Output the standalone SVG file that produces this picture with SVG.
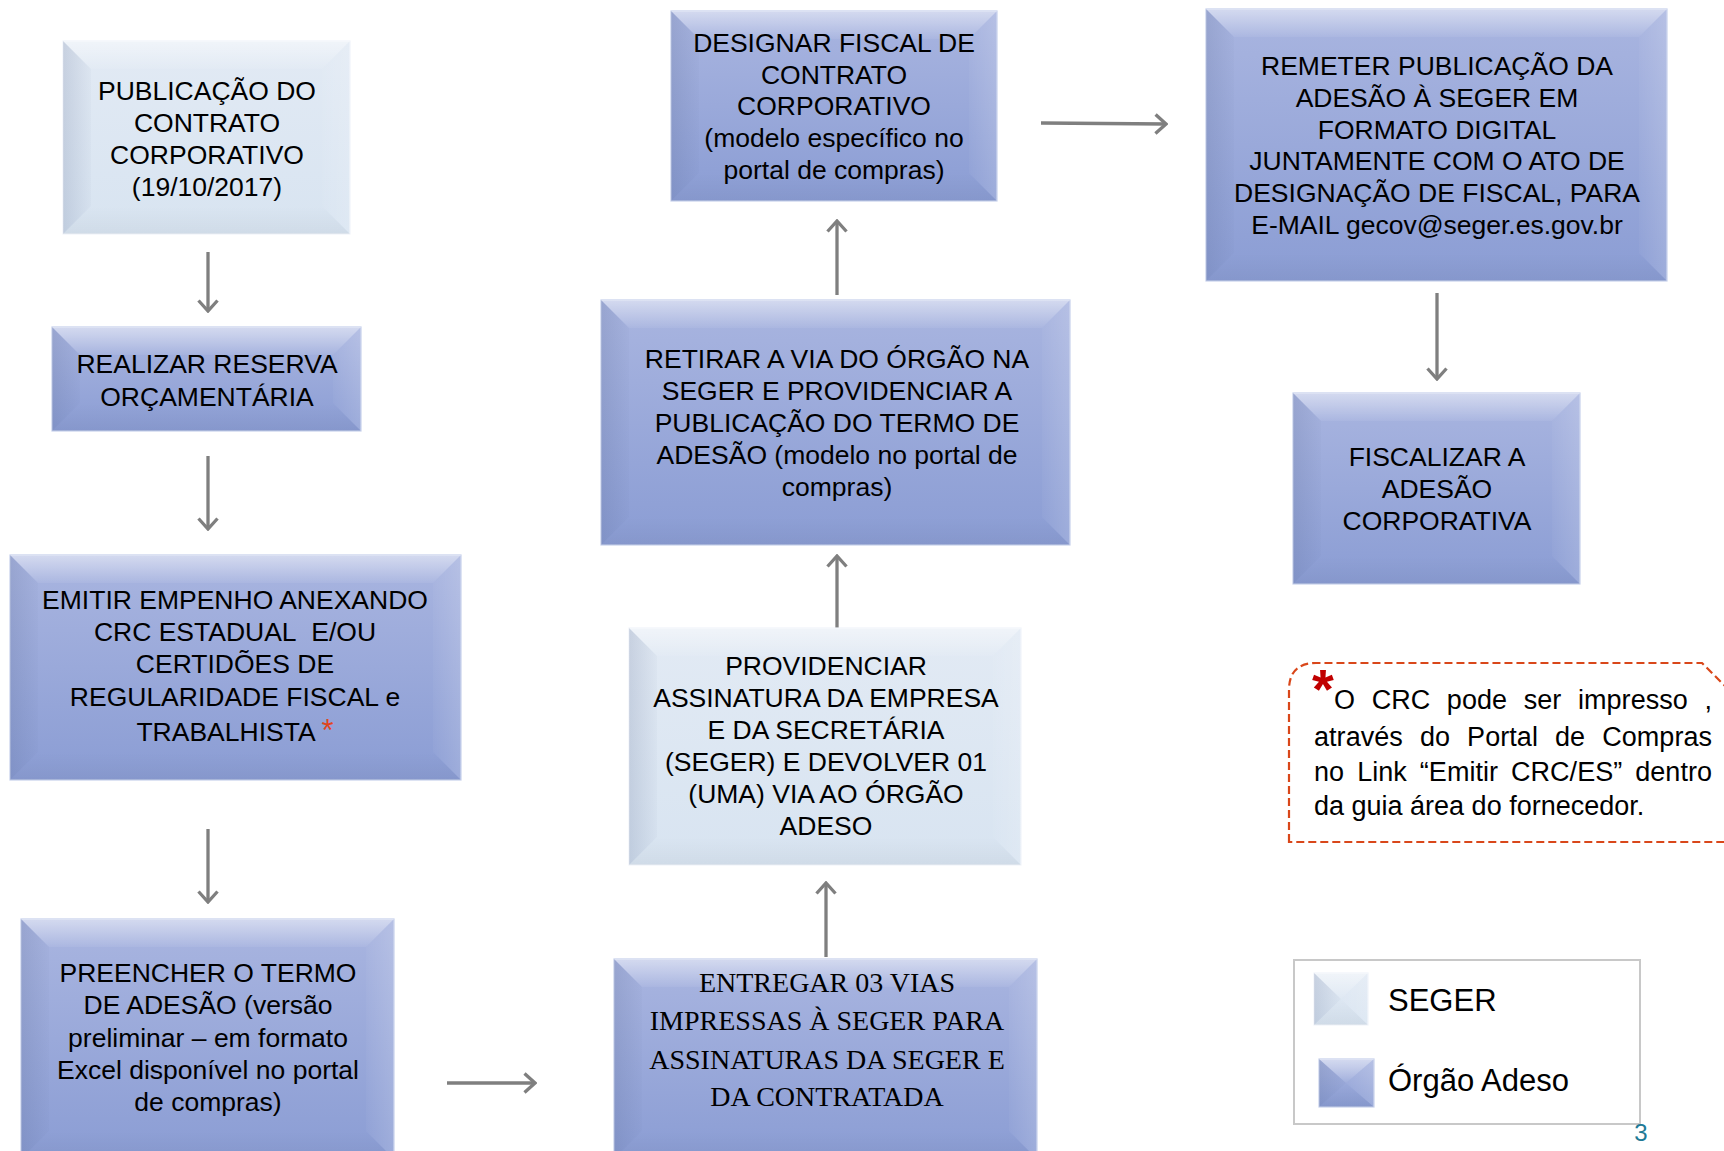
<svg xmlns="http://www.w3.org/2000/svg" width="1724" height="1151" viewBox="0 0 1724 1151">
<style>
.dk{fill:url(#gDk);stroke:#C6D0EC;stroke-width:1.2}
.lt{fill:url(#gLt);stroke:#F0F4FA;stroke-width:1.2}
.bt{fill:url(#bvTop)}
.bl{fill:url(#bvLeft)}
.br{fill:url(#bvRight)}
.bb{fill:url(#bvBot)}
.t{font-family:"Liberation Sans",Arial,sans-serif;font-size:26.5px;fill:#000;text-anchor:middle}
.s{font-family:"Liberation Serif","Times New Roman",serif;font-size:28px;fill:#000;text-anchor:middle}
.n{font-family:"Liberation Sans",Arial,sans-serif;font-size:27px;fill:#000}
.lg{font-family:"Liberation Sans",Arial,sans-serif;font-size:31px;fill:#000}
.con{stroke:#7F7F7F;stroke-width:3.3;fill:none;marker-end:url(#ah)}
</style>
<defs>
<linearGradient id="gDk" x1="0" y1="0" x2="0" y2="1"><stop offset="0" stop-color="#A9B5E0"/><stop offset="1" stop-color="#8B9DD4"/></linearGradient>
<linearGradient id="gLt" x1="0" y1="0" x2="0" y2="1"><stop offset="0" stop-color="#E2EAF4"/><stop offset="1" stop-color="#D8E4F1"/></linearGradient>
<linearGradient id="bvTop" x1="0" y1="0" x2="0" y2="1"><stop offset="0" stop-color="#FFFFFF" stop-opacity="0.5"/><stop offset="1" stop-color="#FFFFFF" stop-opacity="0.06"/></linearGradient>
<linearGradient id="bvLeft" x1="0" y1="0" x2="1" y2="0"><stop offset="0" stop-color="#4F5F88" stop-opacity="0.18"/><stop offset="1" stop-color="#4F5F88" stop-opacity="0.03"/></linearGradient>
<linearGradient id="bvRight" x1="0" y1="0" x2="1" y2="0"><stop offset="0" stop-color="#FFFFFF" stop-opacity="0.03"/><stop offset="1" stop-color="#FFFFFF" stop-opacity="0.16"/></linearGradient>
<linearGradient id="bvBot" x1="0" y1="0" x2="0" y2="1"><stop offset="0" stop-color="#000000" stop-opacity="0.0"/><stop offset="1" stop-color="#000000" stop-opacity="0.04"/></linearGradient>
<marker id="ah" viewBox="0 0 14 22" refX="12" refY="11" markerWidth="14" markerHeight="22" markerUnits="userSpaceOnUse" orient="auto">
<path d="M1.5,1.5 L12,11 L1.5,20.5" fill="none" stroke="#7F7F7F" stroke-width="3.3"/>
</marker>
</defs>
<rect width="1724" height="1151" fill="#FFFFFF"/>

<g id="connectors">
<line class="con" x1="208" y1="252" x2="208" y2="311"/>
<line class="con" x1="208" y1="456" x2="208" y2="529"/>
<line class="con" x1="208" y1="829" x2="208" y2="902"/>
<line class="con" x1="447" y1="1083" x2="535" y2="1083"/>
<line class="con" x1="826" y1="957" x2="826" y2="883"/>
<line class="con" x1="837" y1="629" x2="837" y2="556"/>
<line class="con" x1="837" y1="295" x2="837" y2="221"/>
<line class="con" x1="1041" y1="123" x2="1166" y2="124"/>
<line class="con" x1="1437" y1="293" x2="1437" y2="379"/>
</g>

<g id="n-publicacao">
<rect class="lt" x="63" y="41" width="287" height="193"/>
<polygon class="bt" points="63,41 350,41 322,69 91,69"/>
<polygon class="bl" points="63,41 91,69 91,206 63,234"/>
<polygon class="br" points="350,41 350,234 322,206 322,69"/>
<polygon class="bb" points="63,234 91,206 322,206 350,234"/>
<text class="t" x="207"><tspan x="207" y="100">PUBLICAÇÃO DO</tspan><tspan x="207" y="132">CONTRATO</tspan><tspan x="207" y="164">CORPORATIVO</tspan><tspan x="207" y="196">(19/10/2017)</tspan></text>
</g>

<g id="n-reserva">
<rect class="dk" x="52" y="327" width="309" height="104"/>
<polygon class="bt" points="52,327 361,327 333,355 80,355"/>
<polygon class="bl" points="52,327 80,355 80,403 52,431"/>
<polygon class="br" points="361,327 361,431 333,403 333,355"/>
<polygon class="bb" points="52,431 80,403 333,403 361,431"/>
<text class="t"><tspan x="207" y="373">REALIZAR RESERVA</tspan><tspan x="207" y="406">ORÇAMENTÁRIA</tspan></text>
</g>

<g id="n-empenho">
<rect class="dk" x="10" y="555" width="451" height="225"/>
<polygon class="bt" points="10,555 461,555 433,583 38,583"/>
<polygon class="bl" points="10,555 38,583 38,752 10,780"/>
<polygon class="br" points="461,555 461,780 433,752 433,583"/>
<polygon class="bb" points="10,780 38,752 433,752 461,780"/>
<text class="t"><tspan x="235" y="609">EMITIR EMPENHO ANEXANDO</tspan><tspan x="235" y="641">CRC ESTADUAL&#160; E/OU</tspan><tspan x="235" y="673">CERTIDÕES DE</tspan><tspan x="235" y="706">REGULARIDADE FISCAL e</tspan><tspan x="235" y="741">TRABALHISTA <tspan fill="#E0461C" font-size="31">*</tspan></tspan></text>
</g>

<g id="n-preencher">
<rect class="dk" x="21" y="919" width="373" height="240"/>
<polygon class="bt" points="21,919 394,919 366,947 49,947"/>
<polygon class="bl" points="21,919 49,947 49,1131 21,1159"/>
<polygon class="br" points="394,919 394,1159 366,1131 366,947"/>
<polygon class="bb" points="21,1159 49,1131 366,1131 394,1159"/>
<text class="t"><tspan x="208" y="982">PREENCHER O TERMO</tspan><tspan x="208" y="1014">DE ADESÃO (versão</tspan><tspan x="208" y="1047">preliminar – em formato</tspan><tspan x="208" y="1079">Excel disponível no portal</tspan><tspan x="208" y="1111">de compras)</tspan></text>
</g>

<g id="n-entregar">
<rect class="dk" x="614" y="959" width="423" height="200"/>
<polygon class="bt" points="614,959 1037,959 1009,987 642,987"/>
<polygon class="bl" points="614,959 642,987 642,1131 614,1159"/>
<polygon class="br" points="1037,959 1037,1159 1009,1131 1009,987"/>
<polygon class="bb" points="614,1159 642,1131 1009,1131 1037,1159"/>
<text class="s"><tspan x="827" y="992">ENTREGAR 03 VIAS</tspan><tspan x="827" y="1030">IMPRESSAS À SEGER PARA</tspan><tspan x="827" y="1069">ASSINATURAS DA SEGER E</tspan><tspan x="827" y="1106">DA CONTRATADA</tspan></text>
</g>

<g id="n-providenciar">
<rect class="lt" x="629" y="628" width="392" height="237"/>
<polygon class="bt" points="629,628 1021,628 993,656 657,656"/>
<polygon class="bl" points="629,628 657,656 657,837 629,865"/>
<polygon class="br" points="1021,628 1021,865 993,837 993,656"/>
<polygon class="bb" points="629,865 657,837 993,837 1021,865"/>
<text class="t"><tspan x="826" y="675">PROVIDENCIAR</tspan><tspan x="826" y="707">ASSINATURA DA EMPRESA</tspan><tspan x="826" y="739">E DA SECRETÁRIA</tspan><tspan x="826" y="771">(SEGER) E DEVOLVER 01</tspan><tspan x="826" y="803">(UMA) VIA AO ÓRGÃO</tspan><tspan x="826" y="835">ADESO</tspan></text>
</g>

<g id="n-retirar">
<rect class="dk" x="601" y="300" width="469" height="245"/>
<polygon class="bt" points="601,300 1070,300 1042,328 629,328"/>
<polygon class="bl" points="601,300 629,328 629,517 601,545"/>
<polygon class="br" points="1070,300 1070,545 1042,517 1042,328"/>
<polygon class="bb" points="601,545 629,517 1042,517 1070,545"/>
<text class="t"><tspan x="837" y="368">RETIRAR A VIA DO ÓRGÃO NA</tspan><tspan x="837" y="400">SEGER E PROVIDENCIAR A</tspan><tspan x="837" y="432">PUBLICAÇÃO DO TERMO DE</tspan><tspan x="837" y="464">ADESÃO (modelo no portal de</tspan><tspan x="837" y="496">compras)</tspan></text>
</g>

<g id="n-designar">
<rect class="dk" x="671" y="11" width="326" height="190"/>
<polygon class="bt" points="671,11 997,11 969,39 699,39"/>
<polygon class="bl" points="671,11 699,39 699,173 671,201"/>
<polygon class="br" points="997,11 997,201 969,173 969,39"/>
<polygon class="bb" points="671,201 699,173 969,173 997,201"/>
<text class="t"><tspan x="834" y="52">DESIGNAR FISCAL DE</tspan><tspan x="834" y="84">CONTRATO</tspan><tspan x="834" y="115">CORPORATIVO</tspan><tspan x="834" y="147">(modelo específico no</tspan><tspan x="834" y="179">portal de compras)</tspan></text>
</g>

<g id="n-remeter">
<rect class="dk" x="1206" y="9" width="461" height="272"/>
<polygon class="bt" points="1206,9 1667,9 1639,37 1234,37"/>
<polygon class="bl" points="1206,9 1234,37 1234,253 1206,281"/>
<polygon class="br" points="1667,9 1667,281 1639,253 1639,37"/>
<polygon class="bb" points="1206,281 1234,253 1639,253 1667,281"/>
<text class="t"><tspan x="1437" y="75">REMETER PUBLICAÇÃO DA</tspan><tspan x="1437" y="107">ADESÃO À SEGER EM</tspan><tspan x="1437" y="139">FORMATO DIGITAL</tspan><tspan x="1437" y="170">JUNTAMENTE COM O ATO DE</tspan><tspan x="1437" y="202">DESIGNAÇÃO DE FISCAL, PARA</tspan><tspan x="1437" y="234">E-MAIL gecov@seger.es.gov.br</tspan></text>
</g>

<g id="n-fiscalizar">
<rect class="dk" x="1293" y="393" width="287" height="191"/>
<polygon class="bt" points="1293,393 1580,393 1552,421 1321,421"/>
<polygon class="bl" points="1293,393 1321,421 1321,556 1293,584"/>
<polygon class="br" points="1580,393 1580,584 1552,556 1552,421"/>
<polygon class="bb" points="1293,584 1321,556 1552,556 1580,584"/>
<text class="t"><tspan x="1437" y="466">FISCALIZAR A</tspan><tspan x="1437" y="498">ADESÃO</tspan><tspan x="1437" y="530">CORPORATIVA</tspan></text>
</g>

<g id="note">
<path d="M1289,842 L1289,690 Q1289,663 1316,663 L1702,663 L1740,701 L1740,842 Z" fill="none" stroke="#D9471A" stroke-width="2.2" stroke-dasharray="8,4"/>
<text x="1312" y="708" font-family="'Liberation Sans',Arial,sans-serif" font-size="56" font-weight="bold" fill="#C00000">*</text>
<text class="n" x="1334" y="709" word-spacing="9" textLength="378" lengthAdjust="spacing">O CRC pode ser impresso ,</text>
<text class="n" x="1314" y="746" word-spacing="9.5" textLength="398" lengthAdjust="spacing">através do Portal de Compras</text>
<text class="n" x="1314" y="781" word-spacing="5.5" textLength="398" lengthAdjust="spacing">no Link “Emitir CRC/ES” dentro</text>
<text class="n" x="1314" y="815">da guia área do fornecedor.</text>
</g>

<g id="legend">
<rect x="1294" y="960" width="346" height="164" fill="#FFFFFF" stroke="#C8C8C8" stroke-width="2"/>
<g id="sw-seger">
<rect class="lt" x="1314" y="973" width="54" height="52"/>
<polygon class="bt" points="1314,973 1368,973 1341,999"/>
<polygon class="bl" points="1314,973 1341,999 1314,1025"/>
<polygon class="br" points="1368,973 1368,1025 1341,999"/>
<polygon class="bb" points="1314,1025 1341,999 1368,1025"/>
</g>
<g id="sw-orgao">
<rect class="dk" x="1319" y="1059" width="55" height="48"/>
<polygon class="bt" points="1319,1059 1374,1059 1346,1083"/>
<polygon class="bl" points="1319,1059 1346,1083 1319,1107"/>
<polygon class="br" points="1374,1059 1374,1107 1346,1083"/>
<polygon class="bb" points="1319,1107 1346,1083 1374,1107"/>
</g>
<text class="lg" x="1388" y="1011">SEGER</text>
<text class="lg" x="1388" y="1091">Órgão Adeso</text>
</g>

<text x="1641" y="1141" font-family="'Liberation Sans',Arial,sans-serif" font-size="24" fill="#1F7A96" text-anchor="middle">3</text>
</svg>
